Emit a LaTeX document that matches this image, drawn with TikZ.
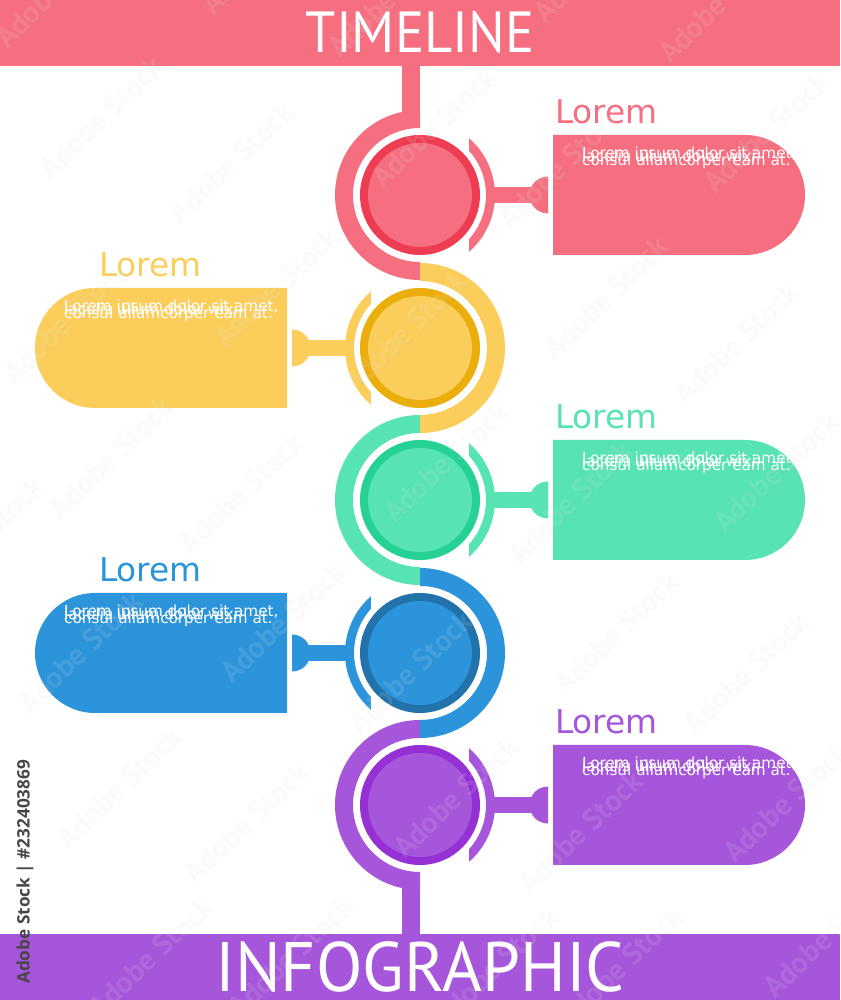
\documentclass[tikz,border=0pt]{standalone}
\usepackage{fontspec}
\setmainfont{DejaVu Sans}
\newfontfamily\ptsans{PT Sans}
\newfontfamily\opensans{Open Sans}
\definecolor{pinkL}{HTML}{F56F80}
\definecolor{pinkD}{HTML}{EE3C52}
\definecolor{yellowL}{HTML}{FBCE5B}
\definecolor{yellowD}{HTML}{EBAE0D}
\definecolor{greenL}{HTML}{57E3B2}
\definecolor{greenD}{HTML}{25D193}
\definecolor{blueL}{HTML}{2B94DB}
\definecolor{blueD}{HTML}{2272AB}
\definecolor{purpleL}{HTML}{A656DB}
\definecolor{purpleD}{HTML}{9530D4}
\tikzset{
  banner/.style={font=\ptsans\fontsize{#1}{#1}\selectfont,text=white,anchor=base,inner sep=0pt,transform shape},
  heading/.style={font=\fontsize{32.8}{32.8}\selectfont,anchor=base west,inner sep=0pt},
  bodytext/.style={font=\fontsize{15.2}{15.2}\selectfont,text=white,anchor=base west,inner sep=0pt},
  wmark/.style={font=\ptsans\bfseries\fontsize{30}{30}\selectfont,rotate=44,anchor=base west,inner sep=0pt},
}
\newcommand{\stagepart}[4]{%
  \begin{scope}[shift={(420,1000-#1)},xscale=#2]
    \fill[#3] (0,85) arc[start angle=90,end angle=270,radius=85] -- (0,-67)
              arc[start angle=270,end angle=90,radius=67] -- cycle;
    \fill[#4] (0,0) circle[radius=60];
    \fill[#3] (0,0) circle[radius=52];
    \fill[#3] (49.2:75) arc[start angle=49.2,end angle=-49.2,radius=75] -- (-42:66)
              arc[start angle=-42,end angle=42,radius=66] -- cycle;
    \fill[#3] (73,-8) rectangle (118,8);
    \fill[#3] (128,18.5) arc[start angle=90,end angle=270,radius=18.5] -- cycle;
    \fill[#3] (133,60) -- (325,60) arc[start angle=90,end angle=-90,radius=60] -- (133,-60) -- cycle;
  \end{scope}}
% cy, heading x, body x, colour, id
\newcommand{\stagetext}[5]{%
  \node[heading,text=#4] (title#5) at (#2,1000-#1+71.5) {Lorem};
  \node[bodytext] (lineA#5) at (#3,1000-#1+36.5) {Lorem ipsum dolor sit amet,};
  \node[bodytext] (lineB#5) at (#3,1000-#1+33) {iaculis ullum dolor wixi};
  \node[bodytext] (lineC#5) at (#3,1000-#1+29.5) {consul ullamcorper eam at.};}
\begin{document}
\begin{tikzpicture}[x=1pt,y=1pt]
\useasboundingbox (0,0) rectangle (840,1000);
\fill[white] (0,0) rectangle (840,1000);
% banners and stems
\fill[pinkL] (0,934) rectangle (840,1000);
\fill[purpleL] (0,0) rectangle (840,66);
\fill[pinkL] (402,872) rectangle (420,934);
\fill[purpleL] (402,66) rectangle (420,128);
\begin{scope}[shift={(420,947)},xscale=.94]
  \node[banner=58] (timeline) at (0,0) {TIMELINE};
\end{scope}
\begin{scope}[shift={(420,9)},xscale=.97]
  \node[banner=70] (infographic) at (0,0) {INFOGRAPHIC};
\end{scope}
% stages
\stagepart{195}{1}{pinkL}{pinkD}
\stagepart{348}{-1}{yellowL}{yellowD}
\stagepart{500}{1}{greenL}{greenD}
\stagepart{653}{-1}{blueL}{blueD}
\stagepart{805}{1}{purpleL}{purpleD}
\stagetext{195}{555}{582}{pinkL}{1}
\stagetext{348}{99}{64}{yellowL}{2}
\stagetext{500}{555}{582}{greenL}{3}
\stagetext{653}{99}{64}{blueL}{4}
\stagetext{805}{555}{582}{purpleL}{5}
% stock watermark
\begin{scope}
  \clip (0,0) rectangle (840,1000);
  \foreach \wx/\wy in {7/50,213/17,340/60,545/25,670/65,
      50/180,180/225,383/190,510/230,715/195,
      15/385,225/350,355/395,555/360,685/405,
      60/520,190/555,395/525,520/565,725/535,
      -70/600,30/715,232/685,360/735,565/695,695/735,
      68/850,195/885,405/860,530/895,735/865,
      100/1020,240/1020,445/1030,570/1030,775/1000} {
    \node[wmark,text=black,opacity=.014] at (\wx+.8,1000-\wy-.8) {Adobe Stock};
    \node[wmark,text=white,opacity=.12] at (\wx,1000-\wy) {Adobe Stock};
  }
\end{scope}
\node[font=\opensans\bfseries\fontsize{17.2}{17.2}\selectfont,text=black!72,rotate=90,anchor=base west,inner sep=0pt] (stocklabel) at (29.5,16) {Adobe Stock | \#232403869};
\end{tikzpicture}
\end{document}
